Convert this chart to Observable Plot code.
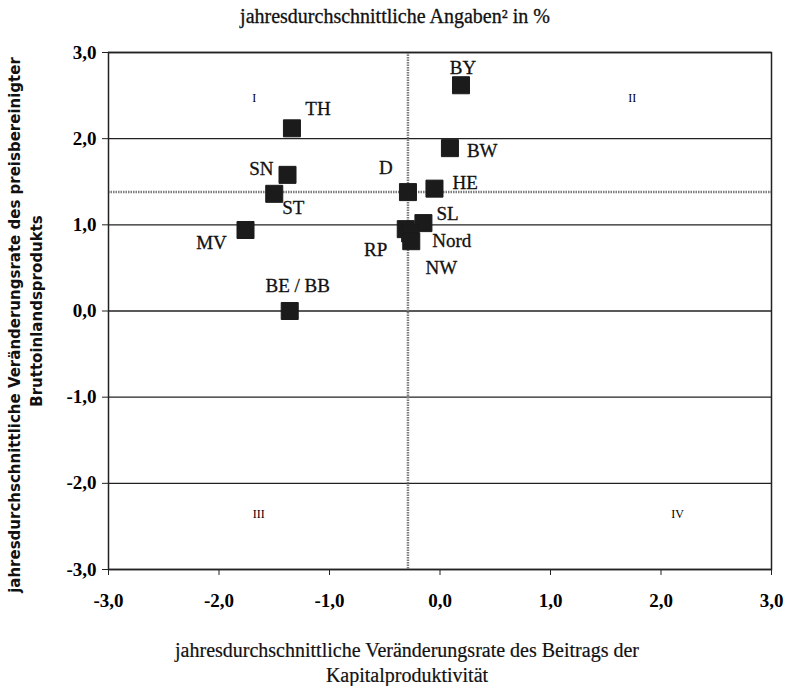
<!DOCTYPE html>
<html>
<head>
<meta charset="utf-8">
<script src="https://cdn.jsdelivr.net/npm/d3@7"></script>
<script src="https://cdn.jsdelivr.net/npm/@observablehq/plot@0.6"></script>
<style>
  html, body { margin: 0; padding: 0; background: #fff; }
  #chart svg { display: block; }
</style>
</head>
<body>
<div id="chart"></div>
<script>
// Data
const regions = ["BY", "BW", "HE", "D", "SL", "RP", "Nord", "NW", "TH", "SN", "ST", "MV", "BE / BB"];
const kapitalBeitrag = [0.19, 0.09, -0.05, -0.29, -0.15, -0.31, -0.27, -0.26, -1.34, -1.38, -1.50, -1.76, -1.36];
const bipRate = [2.62, 1.89, 1.42, 1.38, 1.02, 0.95, 0.90, 0.81, 2.12, 1.58, 1.36, 0.94, 0.00];

const axisTicks = [-3, -2, -1, 0, 1, 2, 3];

const quadrantNames = ["I", "II", "III", "IV"];
const quadrantX = [-1.68, 1.74, -1.64, 2.15];
const quadrantY = [2.47, 2.47, -2.36, -2.36];

const titleText = "jahresdurchschnittliche Angaben² in %";
const yTitleLines = ["jahresdurchschnittliche Veränderungsrate des preisbereinigter", "Bruttoinlandsprodukts"];
const xTitleLines = ["jahresdurchschnittliche Veränderungsrate des Beitrags der", "Kapitalproduktivität"];

// Build table
const points = regions.map((name, i) => ({name, x: kapitalBeitrag[i], y: bipRate[i]}));
const quadrants = quadrantNames.map((q, i) => ({q, x: quadrantX[i], y: quadrantY[i]}));
const avg = points.find(p => p.name === "D");

// Label placement (styling)
const labelStyle = {
  "BY": {dx: 2, dy: -17, anchor: "middle"},
  "BW": {dx: 17, dy: 3, anchor: "start"},
  "HE": {dx: 18, dy: -6, anchor: "start"},
  "D": {dx: -22, dy: -24, anchor: "middle"},
  "SL": {dx: 13, dy: -9, anchor: "start"},
  "RP": {dx: -30, dy: 21, anchor: "middle"},
  "Nord": {dx: 22, dy: 7, anchor: "start"},
  "NW": {dx: 30, dy: 27, anchor: "middle"},
  "TH": {dx: 26, dy: -19, anchor: "middle"},
  "SN": {dx: -14, dy: -6, anchor: "end"},
  "ST": {dx: 19, dy: 14, anchor: "middle"},
  "MV": {dx: -34, dy: 13, anchor: "middle"},
  "BE / BB": {dx: 8, dy: -25, anchor: "middle"}
};

const fmt = d => d.toFixed(1).replace(".", ",");
const serif = "'Liberation Serif', 'Times New Roman', serif";
const sans = "'DejaVu Sans', sans-serif";

const labelMarks = points.map(p => {
  const s = labelStyle[p.name];
  return Plot.text([p], {x: "x", y: "y", text: "name", dx: s.dx, dy: s.dy, textAnchor: s.anchor,
    fontSize: 19, fontFamily: serif, fill: "#111", stroke: "#111", strokeWidth: 0.3});
});

const chart = Plot.plot({
  width: 788,
  height: 686,
  marginLeft: 108,
  marginRight: 17,
  marginTop: 52,
  marginBottom: 117,
  style: {fontFamily: serif, background: "#fff"},
  x: {domain: [-3, 3]},
  y: {domain: [-3, 3]},
  marks: [
    Plot.ruleY(axisTicks, {stroke: "#222", strokeWidth: 1.3}),
    Plot.ruleX([avg.x], {stroke: "#7a7a7a", strokeWidth: 2.5, strokeDasharray: "1.5,1"}),
    Plot.ruleY([avg.y], {stroke: "#7a7a7a", strokeWidth: 2.5, strokeDasharray: "1.5,1"}),
    Plot.frame({stroke: "#222", strokeWidth: 1.5}),
    Plot.axisX(axisTicks, {tickFormat: fmt, tickSize: 6, tickPadding: 18, fontSize: 19, fontWeight: "bold", label: null, stroke: "#222"}),
    Plot.axisY(axisTicks, {tickFormat: fmt, tickSize: 6, tickPadding: 6, fontSize: 19, fontWeight: "bold", label: null, stroke: "#222"}),
    Plot.text(quadrants, {x: "x", y: "y", text: "q", fontSize: 12, fontFamily: serif, fill: "#000"}),
    Plot.dot(points, {x: "x", y: "y", symbol: "square", r: 9.6, fill: "#1b1b1b", stroke: "#1b1b1b", strokeWidth: 1}),
    ...labelMarks,
    Plot.text([titleText], {frameAnchor: "top", dx: -45, dy: -44, fontSize: 20, fontFamily: serif, fill: "#111", stroke: "#111", strokeWidth: 0.3}),
    Plot.text([yTitleLines[0]], {frameAnchor: "left", textAnchor: "middle", rotate: -90, dx: -93, dy: 14, fontSize: 15, fontWeight: "bold", fontFamily: sans, fill: "#111"}),
    Plot.text([yTitleLines[1]], {frameAnchor: "left", textAnchor: "middle", rotate: -90, dx: -71, dy: 0, fontSize: 15, fontWeight: "bold", fontFamily: sans, fill: "#111"}),
    Plot.text([xTitleLines[0]], {frameAnchor: "bottom", dx: -33, dy: 87, fontSize: 20, fontFamily: serif, fill: "#111", stroke: "#111", strokeWidth: 0.2}),
    Plot.text([xTitleLines[1]], {frameAnchor: "bottom", dx: -33, dy: 112, fontSize: 20, fontFamily: serif, fill: "#111", stroke: "#111", strokeWidth: 0.2})
  ]
});
document.getElementById("chart").appendChild(chart);
</script>
</body>
</html>
